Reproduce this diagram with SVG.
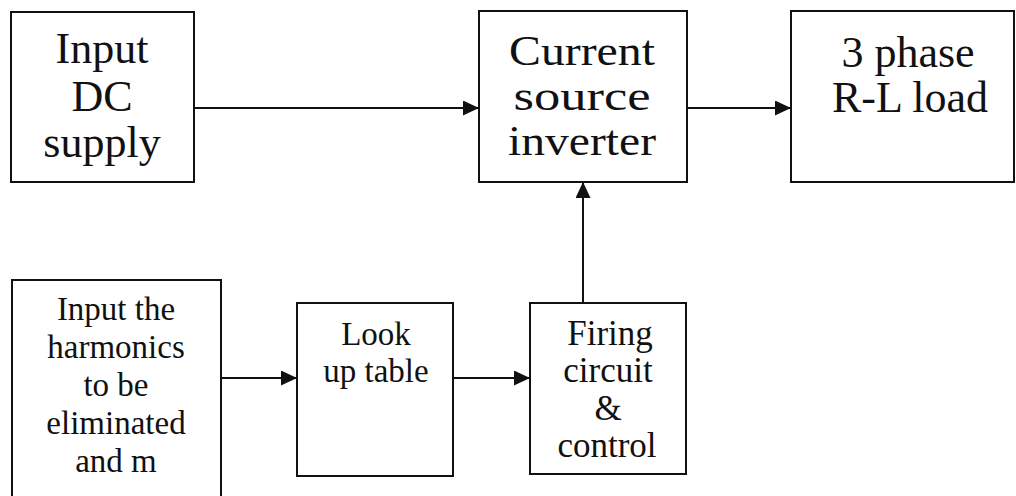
<svg xmlns="http://www.w3.org/2000/svg" width="1016" height="496" viewBox="0 0 1016 496">
  <style>
    .box { fill: #ffffff; stroke: #111111; stroke-width: 2; }
    .lbl { font-family: "Liberation Serif", "Times New Roman", serif; fill: #111111; text-anchor: middle; }
    .big { font-size: 44px; }
    .mid { font-size: 42px; }
    .small { font-size: 33px; }
    .fire { font-size: 35px; }
    .conn { stroke: #111111; stroke-width: 2; fill: none; marker-end: url(#arrow); }
  </style>
  <defs>
    <marker id="arrow" markerUnits="userSpaceOnUse" markerWidth="16" markerHeight="15" refX="16" refY="7.5" orient="auto">
      <path d="M0,0 L16,7.5 L0,15 Z" fill="#111111"/>
    </marker>
  </defs>
  <rect width="1016" height="496" fill="#ffffff"/>

  <g id="input-dc-supply">
    <rect class="box" x="11" y="12" width="183" height="170"/>
    <text class="lbl big" x="102" y="63">Input</text>
    <text class="lbl big" x="102" y="111">DC</text>
    <text class="lbl big" x="102" y="157">supply</text>
  </g>

  <g id="current-source-inverter">
    <rect class="box" x="479" y="11" width="208" height="171"/>
    <text class="lbl mid" x="582" y="65" textLength="146" lengthAdjust="spacingAndGlyphs">Current</text>
    <text class="lbl mid" x="582" y="110" textLength="137" lengthAdjust="spacingAndGlyphs">source</text>
    <text class="lbl mid" x="582" y="155" textLength="148" lengthAdjust="spacingAndGlyphs">inverter</text>
  </g>

  <g id="rl-load">
    <rect class="box" x="791" y="11" width="223" height="171"/>
    <text class="lbl big" x="908" y="67">3 phase</text>
    <text class="lbl big" x="910" y="112">R-L load</text>
  </g>

  <g id="input-harmonics">
    <rect class="box" x="12" y="280" width="209" height="222"/>
    <text class="lbl small" x="116" y="320">Input the</text>
    <text class="lbl small" x="116" y="358">harmonics</text>
    <text class="lbl small" x="116" y="396">to be</text>
    <text class="lbl small" x="116" y="434">eliminated</text>
    <text class="lbl small" x="116" y="472">and m</text>
  </g>

  <g id="look-up-table">
    <rect class="box" x="297" y="303" width="156" height="173"/>
    <text class="lbl small" x="376" y="345">Look</text>
    <text class="lbl small" x="376" y="382">up table</text>
  </g>

  <g id="firing-circuit">
    <rect class="box" x="530" y="303" width="156" height="171"/>
    <text class="lbl fire" x="610" y="345">Firing</text>
    <text class="lbl fire" x="608" y="382">circuit</text>
    <text class="lbl fire" x="608" y="420">&amp;</text>
    <text class="lbl fire" x="607" y="457">control</text>
  </g>

  <g id="connectors">
    <line class="conn" x1="194" y1="108" x2="479" y2="108"/>
    <line class="conn" x1="687" y1="108" x2="791" y2="108"/>
    <line class="conn" x1="583" y1="303" x2="583" y2="182"/>
    <line class="conn" x1="221" y1="378" x2="297" y2="378"/>
    <line class="conn" x1="453" y1="378" x2="530" y2="378"/>
  </g>
</svg>
